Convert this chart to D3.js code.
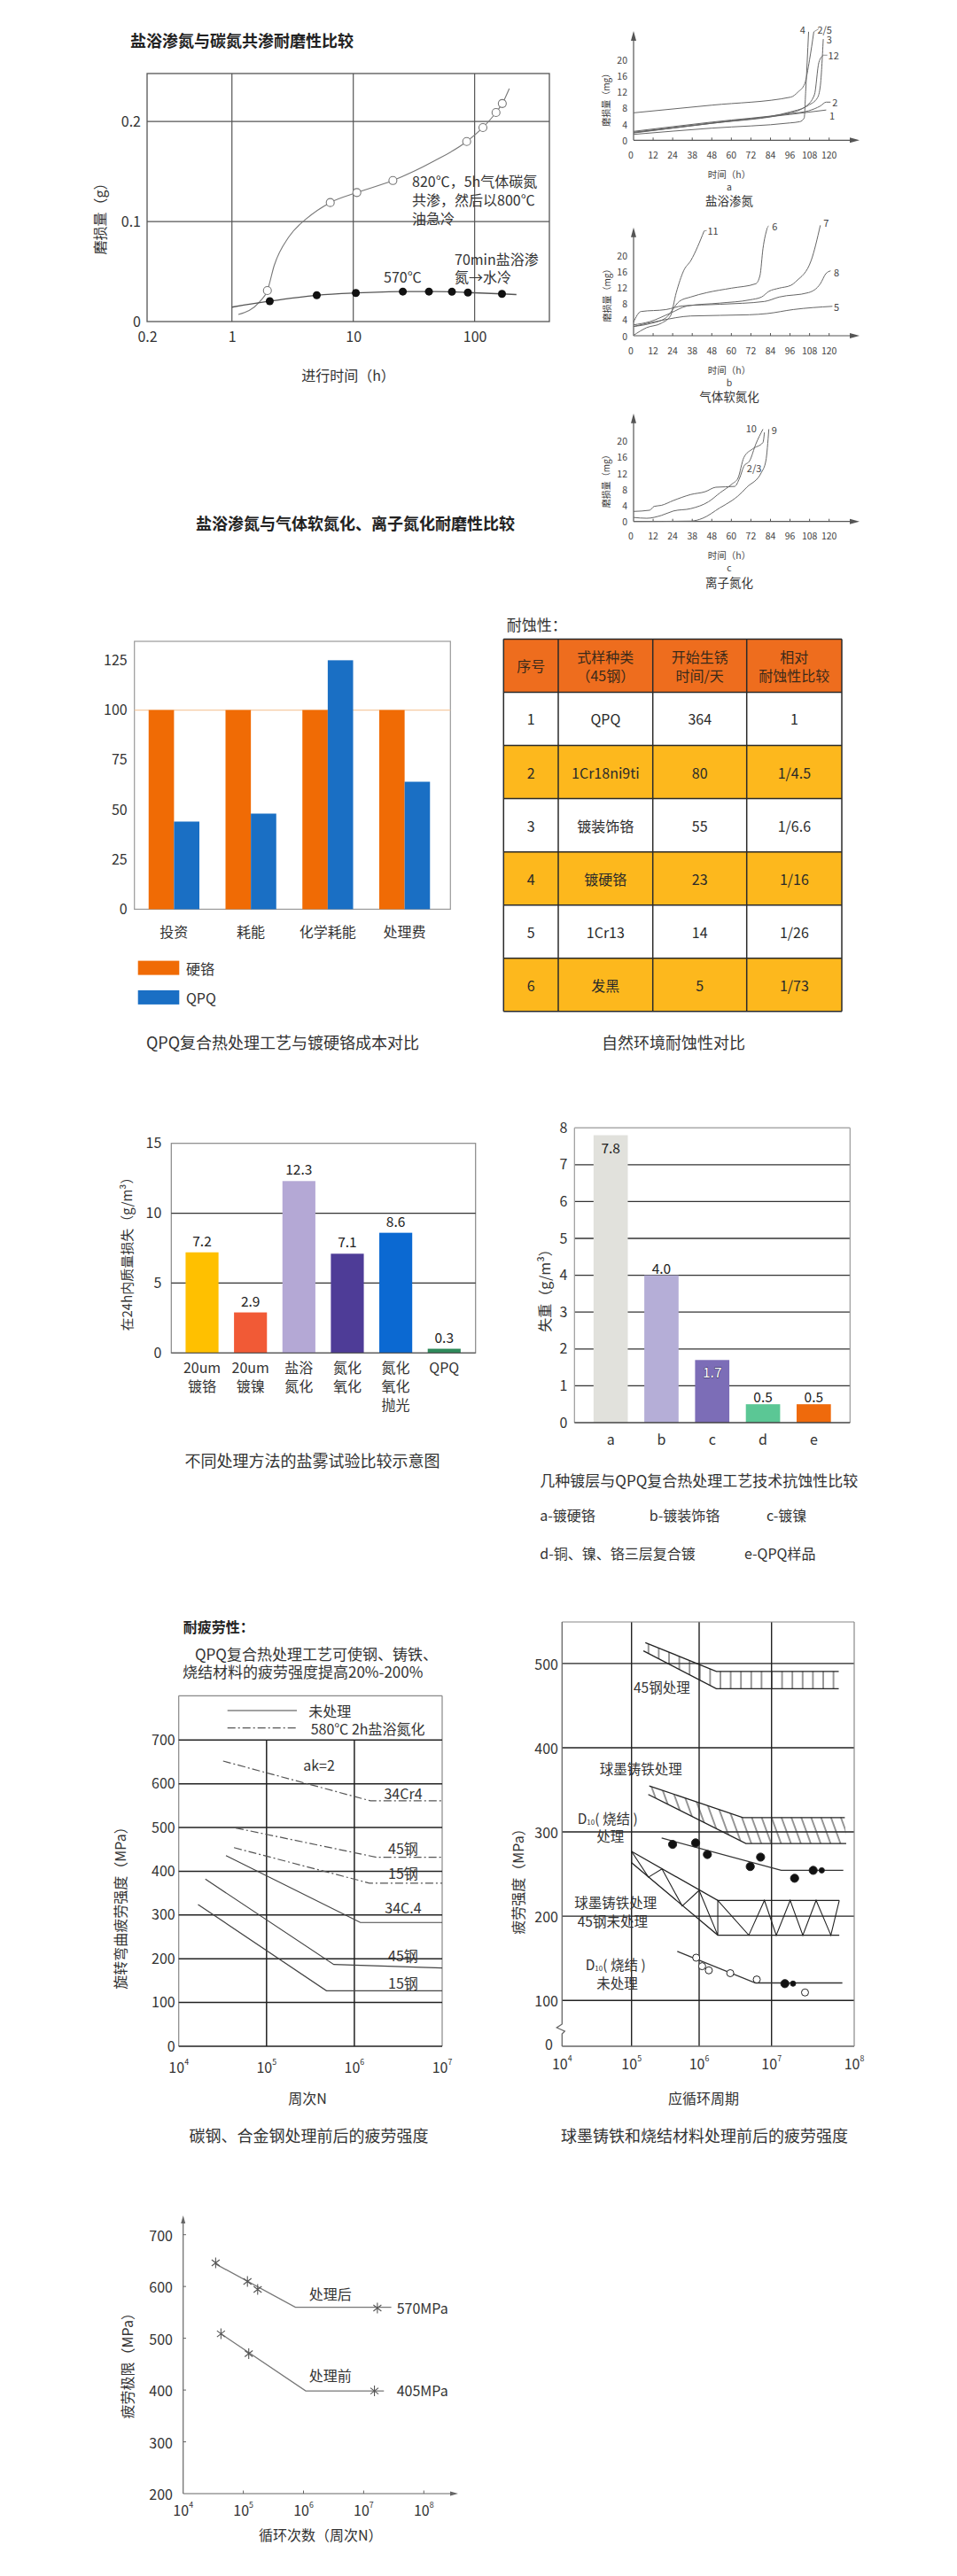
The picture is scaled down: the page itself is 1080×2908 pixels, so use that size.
<!DOCTYPE html>
<html>
<head>
<meta charset="utf-8">
<script src="https://cdn.jsdelivr.net/npm/d3@7"></script>
<style>
  body { margin: 0; background: #fff; }
  svg { display: block; font-family: "Noto Sans CJK SC", "Noto Sans", sans-serif; }
</style>
</head>
<body>
<svg id="page" width="1080" height="2908"></svg>
<script>
"use strict";

//#region data
// 盐浴渗氮与碳氮共渗耐磨性比较
const wearTimeTicks = [0.2, 1, 10, 100];
const wearAmountTicks = [0, 0.1, 0.2];
const carbonitrideCurve = [[1.13, 0.007], [1.7, 0.020], [1.96, 0.031], [2.23, 0.056], [2.96, 0.085], [4.13, 0.103], [6.46, 0.119], [10.7, 0.129], [21.2, 0.141], [45.6, 0.160], [86, 0.180], [117, 0.194], [150, 0.209], [169, 0.218], [193, 0.233]];
const carbonitrideMarks = [[1.96, 0.031], [6.46, 0.119], [10.7, 0.129], [21.2, 0.141], [86, 0.180], [117, 0.194], [150, 0.209], [169, 0.218]];
const saltBathCurve = [[1, 0.0144], [2.05, 0.0204], [5, 0.0263], [10.5, 0.0286], [25.6, 0.030], [42, 0.030], [65, 0.0298], [88, 0.029], [168, 0.0277], [221, 0.027]];
const saltBathMarks = [[2.05, 0.0204], [5, 0.0263], [10.5, 0.0286], [25.6, 0.030], [42, 0.030], [65, 0.0298], [88, 0.029], [168, 0.0277]];

// 盐浴渗氮 / 气体软氮化 / 离子氮化 磨损曲线 (h, mg)
const hourTicks = [0, 12, 24, 36, 48, 60, 72, 84, 96, 108, 120];
const hourTickLabels = ["0", "12", "24", "38", "48", "60", "72", "84", "96", "108", "120"];
const mgTicks = [0, 4, 8, 12, 16, 20];
const saltNitrideCurves = [
    [[0, 6.8], [48, 8.7], [96.5, 10.7], [101, 12], [105, 14], [108, 20], [110.6, 26.9]],
    [[0, 1.45], [48, 3], [96, 4.3], [102, 4.6], [104.7, 5.5], [105.6, 12], [107.4, 26.9]],
    [[0, 1.8], [48, 4.2], [96, 6.4], [118.2, 7.5]],
    [[0, 2.2], [48, 4.5], [96, 6.6], [107.4, 7.3], [114.6, 8.5], [118.2, 9.45], [120.9, 9.45]],
    [[0, 1.9], [48, 4.2], [96, 6.8], [105.6, 8.4], [111, 11.3], [113.7, 19.3], [116.4, 21.1]],
    [[0, 2.0], [48, 4.3], [96, 7], [107.4, 8.7], [112.8, 10.5], [114.6, 13.5], [116.4, 25.1]]
];
const saltNitrideNames = ["2/5", "4", "1", "2", "12", "3"];
const saltNitrideNameAt = [[117.3, 27.6], [103.8, 27.6], [121.8, 6.3], [123.6, 9.45], [122.7, 21.1], [120, 25.1]];
const gasNitrideCurves = [
    [[0, 0.1], [8, 2.0], [17, 3.1], [22.6, 4.9], [26.2, 10.7], [30.7, 16.1], [35.2, 18.7], [43.3, 26]],
    [[0, 2.3], [10, 3], [20, 4.5], [28, 8.5], [35, 9.6], [45, 10.7], [60, 11.8], [75, 12.9], [77.6, 15], [79.4, 21.6], [82, 26.7]],
    [[0, 2.7], [10, 3.5], [22.6, 5.6], [33, 7.4], [53, 8.1], [71.3, 8.9], [78.5, 9.6], [83, 11], [89.3, 11.8], [96.5, 12.5], [100, 13.6], [109, 18.7], [114.6, 27.4]],
    [[0, 3.4], [4.5, 6], [20, 6.5], [30, 7.4], [53, 7.8], [80.3, 8.5], [89.3, 9.6], [107.4, 10.7], [114.6, 12.9], [118, 15.4], [120.9, 16.1]],
    [[0, 2.3], [17, 3.8], [35, 4.9], [71, 5.2], [82, 5.5], [98, 6.5], [122, 7.3]]
];
const gasNitrideNames = ["11", "6", "7", "8", "5"];
const gasNitrideNameAt = [[48.7, 26.1], [86.6, 27.3], [118.2, 28.1], [124.5, 15.9], [124.5, 7.3]];
const ionNitrideCurves = [
    [[0, 2.5], [9.9, 2.8], [12.6, 3.75], [17, 4], [24.4, 5.2], [35.2, 6.7], [44, 7.4], [50.5, 8.5], [62, 8.7], [65, 10.7], [67.7, 13.7], [71.3, 15.1], [75, 19.2], [79.4, 22.9]],
    [[0, 1], [8.1, 0.8], [17, 1.5], [24.4, 2.6], [35.2, 3.2], [46, 4.9], [53, 7.1], [60.4, 9.3], [64, 10.7], [67.7, 15.9], [73, 18], [79.4, 19.6], [80.3, 22.1]],
    [[0, 0], [35.2, 0.1], [42.4, 0.8], [53, 3.4], [60.4, 5.2], [64, 6.3], [69.5, 8.5], [78.5, 12.2], [81.2, 15.1], [83, 22.9]]
];
const ionNitrideNames = ["10", "2/3", "9"];
const ionNitrideNameAt = [[72.2, 23.2], [74, 13.3], [86.3, 22.9]];

// QPQ复合热处理工艺与镀硬铬成本对比
const costCategories = ["投资", "耗能", "化学耗能", "处理费"];
const costSeries = ["硬铬", "QPQ"];
const hardChromeCost = [100, 100, 100, 100];
const qpqCost = [44, 48, 125, 64];
const costTicks = [0, 25, 50, 75, 100, 125];

// 自然环境耐蚀性对比
const tableHeader = [["序号"], ["式样种类", "（45钢）"], ["开始生锈", "时间/天"], ["相对", "耐蚀性比较"]];
const sampleNo = ["1", "2", "3", "4", "5", "6"];
const sampleType = ["QPQ", "1Cr18ni9ti", "镀装饰铬", "镀硬铬", "1Cr13", "发黑"];
const rustDays = ["364", "80", "55", "23", "14", "5"];
const relativeRatio = ["1", "1/4.5", "1/6.6", "1/16", "1/26", "1/73"];

// 不同处理方法的盐雾试验
const sprayMethods = [["20um", "镀铬"], ["20um", "镀镍"], ["盐浴", "氮化"], ["氮化", "氧化"], ["氮化", "氧化", "抛光"], ["QPQ"]];
const sprayLoss = [7.2, 2.9, 12.3, 7.1, 8.6, 0.3];
const sprayTicks = [0, 5, 10, 15];

// 几种镀层与QPQ抗蚀性比较
const coatingKeys = ["a", "b", "c", "d", "e"];
const coatingLoss = [7.8, 4.0, 1.7, 0.5, 0.5];
const coatingTicks = [0, 1, 2, 3, 4, 5, 6, 7, 8];
const coatingNotes = ["a-镀硬铬", "b-镀装饰铬", "c-镀镍", "d-铜、镍、铬三层复合镀", "e-QPQ样品"];

// 碳钢、合金钢处理前后的疲劳强度 (N, MPa)
const steelCycleTicks = [1e4, 1e5, 1e6, 1e7];
const steelStressTicks = [0, 100, 200, 300, 400, 500, 600, 700];
const plain34Cr4 = [[3.45e4, 436], [1.17e6, 283], [1e7, 283]];
const plain45 = [[2.01e4, 382], [5.83e5, 187], [1e7, 179]];
const plain15 = [[1.66e4, 324], [4.81e5, 127], [1e7, 127]];
const nitrided34Cr4 = [[3.2e4, 652], [1.53e6, 561], [1e7, 561]];
const nitrided45 = [[4.46e4, 499], [1.79e6, 432], [1e7, 432]];
const nitrided15 = [[4.26e4, 454], [1.48e6, 373], [1e7, 373]];
const steelNames = ["34Cr4", "45钢", "15钢", "34C.4", "45钢", "15钢"];
const steelNameStress = [580, 454, 396, 317, 208, 145];

// 球墨铸铁和烧结材料处理前后的疲劳强度 (N, MPa)
const ironCycleTicks = [1e4, 1e5, 1e6, 1e7, 1e8];
const ironStressTicks = [100, 200, 300, 400, 500];
const steel45TreatedUpper = [[1.6e5, 524.8], [1.73e6, 490.6], [6.5e7, 490.6]];
const steel45TreatedLower = [[1.5e5, 515], [1.73e6, 470], [6.5e7, 470]];
const ductileTreatedUpper = [[1.83e5, 354.7], [4.02e6, 317.1], [7.7e7, 317.1]];
const ductileTreatedLower = [[1.77e5, 344.5], [4.42e6, 286.3], [8.0e7, 286.3]];
const ductilePlainUpper = [[1e5, 276.9], [1.81e6, 218.7], [6.6e7, 218.7]];
const ductilePlainLower = [[1e5, 263.4], [1.81e6, 177.4], [6.6e7, 177.4]];
const ductilePlainZigzag = [1e5, 1.78e5, 2.82e5, 5.62e5, 1e6, 1.81e6, 1.81e6, 4.85e6, 7.98e6, 1.14e7, 1.68e7, 2.39e7, 3.46e7, 5.22e7, 6.6e7];
const sinterTreatedLine = [[2.79e5, 292.7], [1.31e7, 254.4], [7.38e7, 254.4]];
const sinterTreatedDots = [[4.05e5, 285.2], [8.87e5, 287.0], [1.30e6, 273.2], [5.08e6, 258.9], [7.06e6, 270.1], [1.9e7, 245.0], [3.19e7, 254.4]];
const sinterTreatedSmallDots = [[4.05e7, 254.4]];
const sinterPlainLine = [[4.75e5, 158.2], [6.01e6, 120.7], [7.19e7, 120.7]];
const sinterPlainCircles = [[9.04e5, 150.7], [1.10e6, 140.6], [1.36e6, 135.7], [2.69e6, 132.3], [6.25e6, 124.8], [2.54e7, 109.4]];
const sinterPlainDots = [[1.45e7, 119.9]];
const sinterPlainSmallDots = [[1.82e7, 119.9]];

// QPQ处理前后疲劳极限 (N, MPa)
const limitCycleTicks = [1e4, 1e5, 1e6, 1e7, 1e8];
const limitStressTicks = [200, 300, 400, 500, 600, 700];
const afterLine = [[3.39e4, 644], [7.33e5, 560], [2.88e7, 560]];
const afterMarks = [[3.47e4, 645.7], [1.17e5, 609.7], [1.73e5, 594.3], [1.69e7, 558.3]];
const beforeLine = [[4.25e4, 508.6], [1.09e6, 398.3], [2.17e7, 398.3]];
const beforeMarks = [[4.25e4, 508.6], [1.23e5, 470.3], [1.51e7, 398.3]];
//#endregion

const svg = d3.select("#page");
const INK = "#333";

const label = (g, x, y, str, o = {}) => g.append("text")
    .attr("x", x).attr("y", y)
    .attr("text-anchor", o.anchor || "start")
    .attr("dominant-baseline", "central")
    .attr("font-size", o.size || 16)
    .attr("font-weight", o.weight || "normal")
    .attr("fill", o.fill || INK)
    .text(str);

const vlabel = (g, x, y, str, size) => label(g, x, y, str, { anchor: "middle", size })
    .attr("transform", `rotate(-90,${x},${y})`);

const hline = (g, x1, x2, y, stroke, w) => g.append("line")
    .attr("x1", x1).attr("x2", x2).attr("y1", y).attr("y2", y)
    .attr("stroke", stroke).attr("stroke-width", w);

const vline = (g, x, y1, y2, stroke, w) => g.append("line")
    .attr("x1", x).attr("x2", x).attr("y1", y1).attr("y2", y2)
    .attr("stroke", stroke).attr("stroke-width", w);

const styleAxis = (g, size) => {
    g.attr("font-family", null).attr("font-size", size);
    g.select(".domain").remove();
    g.selectAll("text").attr("fill", INK);
};

const powerLabel = (sel) => sel.each(function (d) {
    const t = d3.select(this);
    t.text("10");
    t.append("tspan").attr("font-size", "0.55em").attr("dy", "-0.7em").text(Math.round(Math.log10(d)));
});

//#region 盐浴渗氮与碳氮共渗耐磨性比较
{
    const g = svg.append("g");
    const f = { l: 166, r: 620, t: 83, b: 363 };
    const x = d3.scaleLog().domain([0.2, 413]).range([f.l, f.r]);
    const y = d3.scaleLinear().domain([0, 0.248]).range([f.b, f.t]);

    label(g, 147, 45, "盐浴渗氮与碳氮共渗耐磨性比较", { size: 18, weight: "bold", fill: "#222" });

    g.selectAll(".vg").data(wearTimeTicks.slice(1)).join("line")
        .attr("x1", d => x(d)).attr("x2", d => x(d)).attr("y1", f.t).attr("y2", f.b)
        .attr("stroke", "#555").attr("stroke-width", 1.2);
    g.selectAll(".hg").data(wearAmountTicks.slice(1)).join("line")
        .attr("x1", f.l).attr("x2", f.r).attr("y1", d => y(d)).attr("y2", d => y(d))
        .attr("stroke", "#555").attr("stroke-width", 1.2);
    g.append("rect").attr("x", f.l).attr("y", f.t).attr("width", f.r - f.l).attr("height", f.b - f.t)
        .attr("fill", "none").attr("stroke", "#555").attr("stroke-width", 1.3);

    g.append("g").attr("transform", `translate(0,${f.b})`)
        .call(d3.axisBottom(x).tickValues(wearTimeTicks).tickFormat(d => d).tickSize(0).tickPadding(12))
        .call(a => styleAxis(a, 16));
    g.append("g").attr("transform", `translate(${f.l},0)`)
        .call(d3.axisLeft(y).tickValues(wearAmountTicks).tickFormat(d => d).tickSize(0).tickPadding(7))
        .call(a => styleAxis(a, 16));

    vlabel(g, 112, 243, "磨损量（g）", 16);
    label(g, 393, 423, "进行时间（h）", { anchor: "middle", size: 16 });

    const line = d3.line().x(d => x(d[0])).y(d => y(d[1])).curve(d3.curveMonotoneX);
    g.append("path").attr("d", line(carbonitrideCurve)).attr("fill", "none").attr("stroke", "#777").attr("stroke-width", 1.1);
    g.append("path").attr("d", line(saltBathCurve)).attr("fill", "none").attr("stroke", "#555").attr("stroke-width", 1.3);
    g.selectAll(".om").data(carbonitrideMarks).join("circle")
        .attr("cx", d => x(d[0])).attr("cy", d => y(d[1])).attr("r", 4.5)
        .attr("fill", "#fff").attr("stroke", "#777").attr("stroke-width", 1.1);
    g.selectAll(".fm").data(saltBathMarks).join("circle")
        .attr("cx", d => x(d[0])).attr("cy", d => y(d[1])).attr("r", 4.5).attr("fill", "#111");

    ["820℃，5h气体碳氮", "共渗，然后以800℃", "油急冷"].forEach((s, i) => label(g, 465, 204 + i * 21, s, { size: 16 }));
    label(g, 433, 312, "570℃", { size: 16 });
    label(g, 513, 292, "70min盐浴渗", { size: 16 });
    label(g, 513, 312, "氮→水冷", { size: 16 });

    label(g, 401, 590, "盐浴渗氮与气体软氮化、离子氮化耐磨性比较", { anchor: "middle", size: 18, weight: "bold", fill: "#222" });
}
//#endregion

//#region 三种氮化磨损曲线
const xh = d3.scaleLinear().domain([0, 120]).range([715, 935.7]);
const wearPanel = (axisY, arrowTop, curves, names, nameAt, letter, title) => {
    const g = svg.append("g");
    const ink = "#555";
    const y = d3.scaleLinear().domain([0, 20]).range([axisY, axisY - 91]);

    hline(g, 715, 962, axisY, ink, 1.2);
    vline(g, 715, axisY, arrowTop + 6, ink, 1.2);
    g.append("path").attr("d", `M970,${axisY} l-11,-3 l0,6 z`).attr("fill", ink);
    g.append("path").attr("d", `M715,${arrowTop} l-3,11 l6,0 z`).attr("fill", ink);

    g.selectAll(".xt").data(hourTicks.slice(1)).join("line")
        .attr("x1", d => xh(d)).attr("x2", d => xh(d)).attr("y1", axisY).attr("y2", axisY - 3)
        .attr("stroke", ink).attr("stroke-width", 1);
    g.selectAll(".xl").data(hourTicks).join("text")
        .attr("x", d => xh(d) - (d === 0 ? 3 : 0)).attr("y", axisY + 16)
        .attr("text-anchor", "middle").attr("dominant-baseline", "central")
        .attr("font-size", 10.5).attr("fill", "#444")
        .text((d, i) => hourTickLabels[i]);
    g.selectAll(".yl").data(mgTicks).join("text")
        .attr("x", 708).attr("y", d => y(d))
        .attr("text-anchor", "end").attr("dominant-baseline", "central")
        .attr("font-size", 10.5).attr("fill", "#444")
        .text(d => d);

    const line = d3.line().x(d => xh(d[0])).y(d => y(d[1])).curve(d3.curveMonotoneX);
    g.selectAll(".c").data(curves).join("path")
        .attr("d", d => line(d)).attr("fill", "none").attr("stroke", "#666").attr("stroke-width", 1);

    // short leader strokes from a curve end to its number
    curves.forEach((c, i) => {
        const end = c[c.length - 1];
        const ex = xh(end[0]), ey = y(end[1]);
        const lx = xh(nameAt[i][0]), ly = y(nameAt[i][1]);
        if (lx - ex > 8) {
            g.append("line").attr("x1", ex).attr("y1", ey).attr("x2", lx - 7).attr("y2", ly)
                .attr("stroke", "#777").attr("stroke-width", 0.8);
        }
    });
    g.selectAll(".n").data(names).join("text")
        .attr("x", (d, i) => xh(nameAt[i][0])).attr("y", (d, i) => y(nameAt[i][1]))
        .attr("text-anchor", "middle").attr("dominant-baseline", "central")
        .attr("font-size", 11).attr("fill", "#444")
        .text(d => d);

    vlabel(g, 684, axisY - 48, "磨损量（mg）", 10);
    label(g, 823, axisY + 38, "时间（h）", { anchor: "middle", size: 10.5, fill: "#444" });
    label(g, 823, axisY + 52, letter, { anchor: "middle", size: 10.5, fill: "#444" });
    label(g, 823, axisY + 68, title, { anchor: "middle", size: 13.5, fill: "#333" });
};
wearPanel(158.3, 35, saltNitrideCurves, saltNitrideNames, saltNitrideNameAt, "a", "盐浴渗氮");
wearPanel(379, 256.7, gasNitrideCurves, gasNitrideNames, gasNitrideNameAt, "b", "气体软氮化");
wearPanel(588.7, 466.7, ionNitrideCurves, ionNitrideNames, ionNitrideNameAt, "c", "离子氮化");
//#endregion

//#region QPQ复合热处理工艺与镀硬铬成本对比
{
    const g = svg.append("g");
    const f = { l: 151.7, r: 508.3, t: 724, b: 1026.4 };
    const y = d3.scaleLinear().domain([0, 134.5]).range([f.b, f.t]);
    const x = d3.scaleBand().domain(costCategories).range([153, 500]).paddingInner(0.34).paddingOuter(0.17);
    const xs = d3.scaleBand().domain(costSeries).range([0, x.bandwidth()]);
    const colors = ["#F06B05", "#1A6FC4"];
    const rows = costCategories.map((c, i) => ({ cat: c, values: [hardChromeCost[i], qpqCost[i]] }));

    g.append("rect").attr("x", f.l).attr("y", f.t).attr("width", f.r - f.l).attr("height", f.b - f.t)
        .attr("fill", "none").attr("stroke", "#999").attr("stroke-width", 1.2);
    hline(g, f.l, f.r, y(100), "#F6CBA2", 1.3);

    g.selectAll(".grp").data(rows).join("g")
        .attr("transform", d => `translate(${x(d.cat)},0)`)
        .selectAll("rect").data(d => d.values.map((v, j) => ({ s: costSeries[j], v, j }))).join("rect")
        .attr("x", d => xs(d.s)).attr("width", xs.bandwidth())
        .attr("y", d => y(d.v)).attr("height", d => f.b - y(d.v))
        .attr("fill", d => colors[d.j]);

    g.append("g").attr("transform", `translate(${f.l},0)`)
        .call(d3.axisLeft(y).tickValues(costTicks).tickSize(0).tickPadding(8))
        .call(a => styleAxis(a, 16));
    g.selectAll(".cl").data(costCategories).join("text")
        .attr("x", d => x(d) + x.bandwidth() / 2).attr("y", 1051)
        .attr("text-anchor", "middle").attr("dominant-baseline", "central")
        .attr("font-size", 16).attr("fill", INK).text(d => d);

    costSeries.forEach((s, i) => {
        g.append("rect").attr("x", 155.7).attr("y", 1084.6 + i * 33.3).attr("width", 46.6).attr("height", 16)
            .attr("fill", colors[i]);
        label(g, 210, 1092.6 + i * 33.3, s, { size: 16 });
    });
    label(g, 319, 1176, "QPQ复合热处理工艺与镀硬铬成本对比", { anchor: "middle", size: 18 });
}
//#endregion

//#region 自然环境耐蚀性对比
{
    const g = svg.append("g");
    const colX = [568.3, 630, 736.7, 842.7, 950];
    const rowY = d3.scaleLinear().domain([0, 7]).range([721.4, 1141.8]);
    const body = sampleNo.map((n, i) => [n, sampleType[i], rustDays[i], relativeRatio[i]]);

    label(g, 571.7, 704.3, "耐蚀性：", { size: 17 });

    g.selectAll(".hc").data(tableHeader).join("rect")
        .attr("x", (d, i) => colX[i]).attr("width", (d, i) => colX[i + 1] - colX[i])
        .attr("y", rowY(0)).attr("height", rowY(1) - rowY(0))
        .attr("fill", "#EE6D1E");
    tableHeader.forEach((lines, i) => {
        const cx = (colX[i] + colX[i + 1]) / 2;
        const cy = (rowY(0) + rowY(1)) / 2;
        lines.forEach((s, k) => label(g, cx, cy + (k - (lines.length - 1) / 2) * 20.5, s,
            { anchor: "middle", size: 16, fill: "#3a2a1a" }));
    });

    body.forEach((row, r) => {
        row.forEach((s, i) => {
            g.append("rect").attr("x", colX[i]).attr("width", colX[i + 1] - colX[i])
                .attr("y", rowY(r + 1)).attr("height", rowY(r + 2) - rowY(r + 1))
                .attr("fill", r % 2 === 1 ? "#FDB81D" : "#fff");
            label(g, (colX[i] + colX[i + 1]) / 2, (rowY(r + 1) + rowY(r + 2)) / 2, s,
                { anchor: "middle", size: 16, fill: "#2a2a2a" });
        });
    });

    g.selectAll(".rl").data(d3.range(8)).join("line")
        .attr("x1", colX[0]).attr("x2", colX[4]).attr("y1", d => rowY(d)).attr("y2", d => rowY(d))
        .attr("stroke", "#2a2a2a").attr("stroke-width", 1.5);
    g.selectAll(".cl").data(colX).join("line")
        .attr("x1", d => d).attr("x2", d => d).attr("y1", rowY(0)).attr("y2", rowY(7))
        .attr("stroke", "#2a2a2a").attr("stroke-width", 1.5);

    label(g, 760, 1176, "自然环境耐蚀性对比", { anchor: "middle", size: 18 });
}
//#endregion

//#region 不同处理方法的盐雾试验比较示意图
{
    const g = svg.append("g");
    const f = { l: 193.3, r: 536.7, t: 1290.7, b: 1527.3 };
    const y = d3.scaleLinear().domain([0, 15]).range([f.b, f.t]);
    const x = d3.scaleBand().domain(d3.range(sprayLoss.length)).range([200.7, 528.6]).paddingInner(0.32).paddingOuter(0.16);
    const colors = ["#FFC000", "#F15A36", "#B4A8D5", "#4E3C97", "#0B69D2", "#2E8A5B"];

    g.append("rect").attr("x", f.l).attr("y", f.t).attr("width", f.r - f.l).attr("height", f.b - f.t)
        .attr("fill", "none").attr("stroke", "#888").attr("stroke-width", 1.2);
    g.selectAll(".gl").data([5, 10]).join("line")
        .attr("x1", f.l).attr("x2", f.r).attr("y1", d => y(d)).attr("y2", d => y(d))
        .attr("stroke", "#333").attr("stroke-width", 1.3);

    g.selectAll(".bar").data(sprayLoss).join("rect")
        .attr("x", (d, i) => x(i)).attr("width", x.bandwidth())
        .attr("y", d => y(d)).attr("height", d => f.b - y(d))
        .attr("fill", (d, i) => colors[i]);
    g.selectAll(".val").data(sprayLoss).join("text")
        .attr("x", (d, i) => x(i) + x.bandwidth() / 2).attr("y", d => y(d) - 14)
        .attr("text-anchor", "middle").attr("dominant-baseline", "central")
        .attr("font-size", 15.5).attr("fill", "#222").text(d => d.toFixed(1));
    hline(g, f.l, f.r, f.b, "#555", 1.3);

    g.append("g").attr("transform", `translate(${f.l},0)`)
        .call(d3.axisLeft(y).tickValues(sprayTicks).tickSize(0).tickPadding(11))
        .call(a => styleAxis(a, 16));

    sprayMethods.forEach((lines, i) => lines.forEach((s, k) =>
        label(g, x(i) + x.bandwidth() / 2, 1543.3 + k * 21, s, { anchor: "middle", size: 16 })));

    vlabel(g, 142, 1412, "在24h内质量损失（g/m³）", 15);
    label(g, 352.5, 1648, "不同处理方法的盐雾试验比较示意图", { anchor: "middle", size: 18 });
}
//#endregion

//#region 几种镀层与QPQ复合热处理工艺技术抗蚀性比较
{
    const g = svg.append("g");
    const f = { l: 648.3, r: 959.3, b: 1606 };
    const y = d3.scaleLinear().domain([0, 8]).range([f.b, f.b - 8 * 41.6]);
    const x = d3.scaleBand().domain(coatingKeys).range([660.5, 947]).paddingInner(0.325).paddingOuter(0.1625);
    const colors = ["#E1E1DC", "#B5AED7", "#7C6DB7", "#5BC795", "#EF6A0C"];

    g.selectAll(".gl").data(coatingTicks.slice(1, -1)).join("line")
        .attr("x1", f.l).attr("x2", f.r).attr("y1", d => y(d)).attr("y2", d => y(d))
        .attr("stroke", "#333").attr("stroke-width", 1.3);
    hline(g, f.l, f.r, y(8), "#999", 1.2);
    vline(g, f.l, y(8), f.b, "#999", 1.2);
    vline(g, f.r, y(8), f.b, "#999", 1.2);

    g.selectAll(".bar").data(coatingLoss).join("rect")
        .attr("x", (d, i) => x(coatingKeys[i])).attr("width", x.bandwidth())
        .attr("y", d => y(d)).attr("height", d => f.b - y(d))
        .attr("fill", (d, i) => colors[i]);
    hline(g, f.l, f.r, f.b, "#444", 1.4);

    const inside = [true, false, true, false, false];
    g.selectAll(".val").data(coatingLoss).join("text")
        .attr("x", (d, i) => x(coatingKeys[i]) + x.bandwidth() / 2)
        .attr("y", (d, i) => inside[i] ? y(d) + 13 : y(d) - 9)
        .attr("text-anchor", "middle").attr("dominant-baseline", "central")
        .attr("font-size", 15.5)
        .attr("fill", (d, i) => i === 2 ? "#fff" : "#222")
        .attr("stroke", (d, i) => i === 2 ? "#2d2850" : "none")
        .attr("stroke-width", 0.9).attr("paint-order", "stroke")
        .text(d => d.toFixed(1));

    g.append("g").attr("transform", `translate(${f.l},0)`)
        .call(d3.axisLeft(y).tickValues(coatingTicks).tickSize(0).tickPadding(8))
        .call(a => styleAxis(a, 16));
    g.selectAll(".kl").data(coatingKeys).join("text")
        .attr("x", d => x(d) + x.bandwidth() / 2).attr("y", 1624)
        .attr("text-anchor", "middle").attr("dominant-baseline", "central")
        .attr("font-size", 16).attr("fill", INK).text(d => d);

    vlabel(g, 614, 1453, "失重（g/m³）", 16);
    label(g, 609.3, 1670, "几种镀层与QPQ复合热处理工艺技术抗蚀性比较", { size: 17 });
    const notePos = [[609.3, 1710], [732.7, 1710], [865, 1710], [609.3, 1753.3], [840, 1753.3]];
    coatingNotes.forEach((s, i) => label(g, notePos[i][0], notePos[i][1], s, { size: 16 }));
}
//#endregion

//#region 碳钢、合金钢处理前后的疲劳强度
{
    const g = svg.append("g");
    const f = { l: 201.7, r: 499, t: 1914.3, b: 2310 };
    const x = d3.scaleLog().domain([1e4, 1e7]).range([f.l, f.r]);
    const y = d3.scaleLinear().domain([0, 700]).range([f.b, 1964.3]);

    label(g, 206.7, 1835.7, "耐疲劳性：", { size: 16, weight: "bold", fill: "#222" });
    label(g, 220, 1866, "QPQ复合热处理工艺可使钢、铸铁、", { size: 17 });
    label(g, 206, 1886.8, "烧结材料的疲劳强度提高20%-200%", { size: 17 });

    vline(g, f.l, f.t, f.b, "#888", 1.2);
    vline(g, f.r, f.t, f.b, "#888", 1.2);
    hline(g, f.l, f.r, f.t, "#888", 1.2);
    g.selectAll(".hg").data(steelStressTicks).join("line")
        .attr("x1", f.l).attr("x2", f.r).attr("y1", d => y(d)).attr("y2", d => y(d))
        .attr("stroke", "#222").attr("stroke-width", 1.5);
    g.selectAll(".vg").data(steelCycleTicks.slice(1, -1)).join("line")
        .attr("x1", d => x(d)).attr("x2", d => x(d)).attr("y1", y(700)).attr("y2", f.b)
        .attr("stroke", "#222").attr("stroke-width", 1.5);

    const line = d3.line().x(d => x(d[0])).y(d => y(d[1]));
    [plain34Cr4, plain45, plain15].forEach(d => g.append("path").attr("d", line(d))
        .attr("fill", "none").attr("stroke", "#444").attr("stroke-width", 1.2));
    [nitrided34Cr4, nitrided45, nitrided15].forEach(d => g.append("path").attr("d", line(d))
        .attr("fill", "none").attr("stroke", "#555").attr("stroke-width", 1.2).attr("stroke-dasharray", "9,3,2,3"));

    hline(g, 256.7, 335, 1931, "#444", 1.2);
    label(g, 348.3, 1931, "未处理", { size: 16 });
    hline(g, 256.7, 335, 1950.7, "#555", 1.2).attr("stroke-dasharray", "9,3,2,3");
    label(g, 350.7, 1950.7, "580℃ 2h盐浴氮化", { size: 16 });
    label(g, x(10 ** 5.597), y(644), "ak=2", { anchor: "middle", size: 16 });
    steelNames.forEach((s, i) => label(g, x(10 ** 6.556), y(steelNameStress[i]), s, { anchor: "middle", size: 16 }));

    g.append("g").attr("transform", `translate(${f.l},0)`)
        .call(d3.axisLeft(y).tickValues(steelStressTicks).tickSize(0).tickPadding(4))
        .call(a => styleAxis(a, 16));
    g.selectAll(".xl").data(steelCycleTicks).join("text")
        .attr("x", d => x(d)).attr("y", 2333)
        .attr("text-anchor", "middle").attr("dominant-baseline", "central")
        .attr("font-size", 16).attr("fill", INK)
        .call(powerLabel);

    vlabel(g, 135, 2150, "旋转弯曲疲劳强度（MPa）", 16);
    label(g, 347, 2368, "周次N", { anchor: "middle", size: 16 });
    label(g, 348.4, 2410, "碳钢、合金钢处理前后的疲劳强度", { anchor: "middle", size: 18 });
}
//#endregion

//#region 球墨铸铁和烧结材料处理前后的疲劳强度
{
    const g = svg.append("g");
    const f = { l: 634.3, r: 964, t: 1831, b: 2310 };
    const xLog = d3.scaleLinear().domain([4, 5, 6, 7, 8]).range([634.3, 712.7, 789, 870.7, 964]);
    const x = n => xLog(Math.log10(n));
    const y = d3.scaleLinear().domain([100, 500]).range([2258.2, 1877.9]);

    const defs = svg.append("defs");
    defs.append("pattern").attr("id", "hatchV").attr("patternUnits", "userSpaceOnUse")
        .attr("width", 11.6).attr("height", 10)
        .append("line").attr("x1", 1).attr("x2", 1).attr("y1", 0).attr("y2", 10)
        .attr("stroke", "#333").attr("stroke-width", 1);
    defs.append("pattern").attr("id", "hatchD").attr("patternUnits", "userSpaceOnUse")
        .attr("width", 10.5).attr("height", 10).attr("patternTransform", "rotate(-20)")
        .append("line").attr("x1", 1).attr("x2", 1).attr("y1", 0).attr("y2", 10)
        .attr("stroke", "#333").attr("stroke-width", 1);

    g.selectAll(".hg").data(ironStressTicks).join("line")
        .attr("x1", f.l).attr("x2", f.r).attr("y1", d => y(d)).attr("y2", d => y(d))
        .attr("stroke", "#222").attr("stroke-width", 1.4);
    g.selectAll(".vg").data(ironCycleTicks.slice(1, -1)).join("line")
        .attr("x1", d => x(d)).attr("x2", d => x(d)).attr("y1", f.t).attr("y2", f.b)
        .attr("stroke", "#222").attr("stroke-width", 1.4);
    hline(g, f.l, f.r, f.t, "#888", 1.2);
    hline(g, f.l, f.r, f.b, "#666", 1.3);
    vline(g, f.r, f.t, f.b, "#888", 1.2);
    g.append("path").attr("d", `M${f.l},${f.t} V2285 l-6,4 l9,4 l-3,3 V${f.b}`)
        .attr("fill", "none").attr("stroke", "#666").attr("stroke-width", 1.3);

    const line = d3.line().x(d => x(d[0])).y(d => y(d[1]));
    const band = (upper, lower, fill) => {
        g.append("path").attr("d", line(upper.concat(lower.slice().reverse())) + "Z")
            .attr("fill", fill).attr("stroke", "none");
        [upper, lower].forEach(e => g.append("path").attr("d", line(e))
            .attr("fill", "none").attr("stroke", "#222").attr("stroke-width", 1.3));
    };
    band(steel45TreatedUpper, steel45TreatedLower, "url(#hatchV)");
    band(ductileTreatedUpper, ductileTreatedLower, "url(#hatchD)");
    band(ductilePlainUpper, ductilePlainLower, "none");

    const edgeAt = (edge, n) => {
        const lx = Math.log10(n);
        for (let i = 0; i < edge.length - 1; i++) {
            const a = Math.log10(edge[i][0]), b = Math.log10(edge[i + 1][0]);
            if (lx <= b + 1e-9) return edge[i][1] + (Math.max(lx, a) - a) / (b - a) * (edge[i + 1][1] - edge[i][1]);
        }
        return edge[edge.length - 1][1];
    };
    const zig = ductilePlainZigzag.map((n, i) => [n, edgeAt(i % 2 === 0 ? ductilePlainUpper : ductilePlainLower, n)]);
    g.append("path").attr("d", line(zig)).attr("fill", "none").attr("stroke", "#222").attr("stroke-width", 1.1);
    g.append("path").attr("d", line([ductilePlainUpper[0], ductilePlainLower[0]]))
        .attr("stroke", "#222").attr("stroke-width", 1.1);

    [sinterTreatedLine, sinterPlainLine].forEach(d => g.append("path").attr("d", line(d))
        .attr("fill", "none").attr("stroke", "#333").attr("stroke-width", 1.3));
    const dots = (data, r, fill) => g.append("g").selectAll("circle").data(data).join("circle")
        .attr("cx", d => x(d[0])).attr("cy", d => y(d[1])).attr("r", r)
        .attr("fill", fill).attr("stroke", "#222").attr("stroke-width", 1);
    dots(sinterTreatedDots, 4.6, "#111");
    dots(sinterTreatedSmallDots, 3, "#111");
    dots(sinterPlainCircles, 4, "#fff");
    dots(sinterPlainDots, 4.6, "#111");
    dots(sinterPlainSmallDots, 3, "#111");

    label(g, 715, 1904.3, "45钢处理", { size: 15.5 });
    label(g, 676.7, 1995.7, "球墨铸铁处理", { size: 15.5 });
    const d10 = (x0, y0) => {
        const t = label(g, x0, y0, "D", { size: 15.5 });
        t.append("tspan").attr("font-size", 8).attr("dy", 4).text("10");
        t.append("tspan").attr("dy", -4).text("( 烧结 )");
    };
    d10(651.7, 2051.8);
    label(g, 673.3, 2072, "处理", { size: 15.5 });
    label(g, 648.3, 2147, "球墨铸铁处理", { size: 15.5 });
    label(g, 651.7, 2167.9, "45钢未处理", { size: 15.5 });
    d10(660.7, 2217);
    label(g, 673.3, 2237.5, "未处理", { size: 15.5 });

    g.selectAll(".yl").data(ironStressTicks).join("text")
        .attr("x", 630).attr("y", d => y(d))
        .attr("text-anchor", "end").attr("dominant-baseline", "central")
        .attr("font-size", 16).attr("fill", INK).text(d => d);
    label(g, 624, 2307, "0", { anchor: "end", size: 16 });
    g.selectAll(".xl").data(ironCycleTicks).join("text")
        .attr("x", d => x(d)).attr("y", 2329)
        .attr("text-anchor", "middle").attr("dominant-baseline", "central")
        .attr("font-size", 16).attr("fill", INK)
        .call(powerLabel);

    vlabel(g, 584, 2120, "疲劳强度（MPa）", 16);
    label(g, 794, 2368, "应循环周期", { anchor: "middle", size: 16 });
    label(g, 795, 2410, "球墨铸铁和烧结材料处理前后的疲劳强度", { anchor: "middle", size: 18 });
}
//#endregion

//#region QPQ处理前后疲劳极限
{
    const g = svg.append("g");
    const ink = "#666";
    const x = d3.scaleLog().domain([1e4, 1e8]).range([206.7, 478.3]);
    const y = d3.scaleLinear().domain([200, 700]).range([2815, 2522.7]);

    hline(g, 206.7, 510, 2815, ink, 1.2);
    vline(g, 206.7, 2815, 2508, ink, 1.2);
    g.append("path").attr("d", "M517,2815 l-9,-2.5 l0,5 z").attr("fill", ink);
    g.append("path").attr("d", "M206.7,2501 l-2.5,9 l5,0 z").attr("fill", ink);
    g.selectAll(".yt").data(limitStressTicks.slice(1)).join("line")
        .attr("x1", 206.7).attr("x2", 210).attr("y1", d => y(d)).attr("y2", d => y(d))
        .attr("stroke", ink).attr("stroke-width", 1);
    g.selectAll(".xt").data(limitCycleTicks.slice(1)).join("line")
        .attr("x1", d => x(d)).attr("x2", d => x(d)).attr("y1", 2815).attr("y2", 2811.5)
        .attr("stroke", ink).attr("stroke-width", 1);

    g.selectAll(".yl").data(limitStressTicks).join("text")
        .attr("x", 195).attr("y", d => y(d))
        .attr("text-anchor", "end").attr("dominant-baseline", "central")
        .attr("font-size", 16).attr("fill", INK).text(d => d);
    g.selectAll(".xl").data(limitCycleTicks).join("text")
        .attr("x", d => x(d)).attr("y", 2833)
        .attr("text-anchor", "middle").attr("dominant-baseline", "central")
        .attr("font-size", 16).attr("fill", INK)
        .call(powerLabel);

    const line = d3.line().x(d => x(d[0])).y(d => y(d[1]));
    [afterLine, beforeLine].forEach(d => g.append("path").attr("d", line(d))
        .attr("fill", "none").attr("stroke", "#777").attr("stroke-width", 1.3));
    const star = "M0,-6V6M-4.5,-3.5L4.5,3.5M-4.5,3.5L4.5,-3.5";
    g.selectAll(".mk").data(afterMarks.concat(beforeMarks)).join("path")
        .attr("d", star).attr("transform", d => `translate(${x(d[0])},${y(d[1])})`)
        .attr("fill", "none").attr("stroke", "#555").attr("stroke-width", 1.1);

    label(g, 372.7, 2589.3, "处理后", { anchor: "middle", size: 16 });
    label(g, 447.7, 2605, "570MPa", { size: 16 });
    label(g, 372.7, 2680.7, "处理前", { anchor: "middle", size: 16 });
    label(g, 447.7, 2698.3, "405MPa", { size: 16 });

    vlabel(g, 143.3, 2666.7, "疲劳极限（MPa）", 16);
    label(g, 361.7, 2861, "循环次数（周次N）", { anchor: "middle", size: 16 });
}
//#endregion
</script>
</body>
</html>
